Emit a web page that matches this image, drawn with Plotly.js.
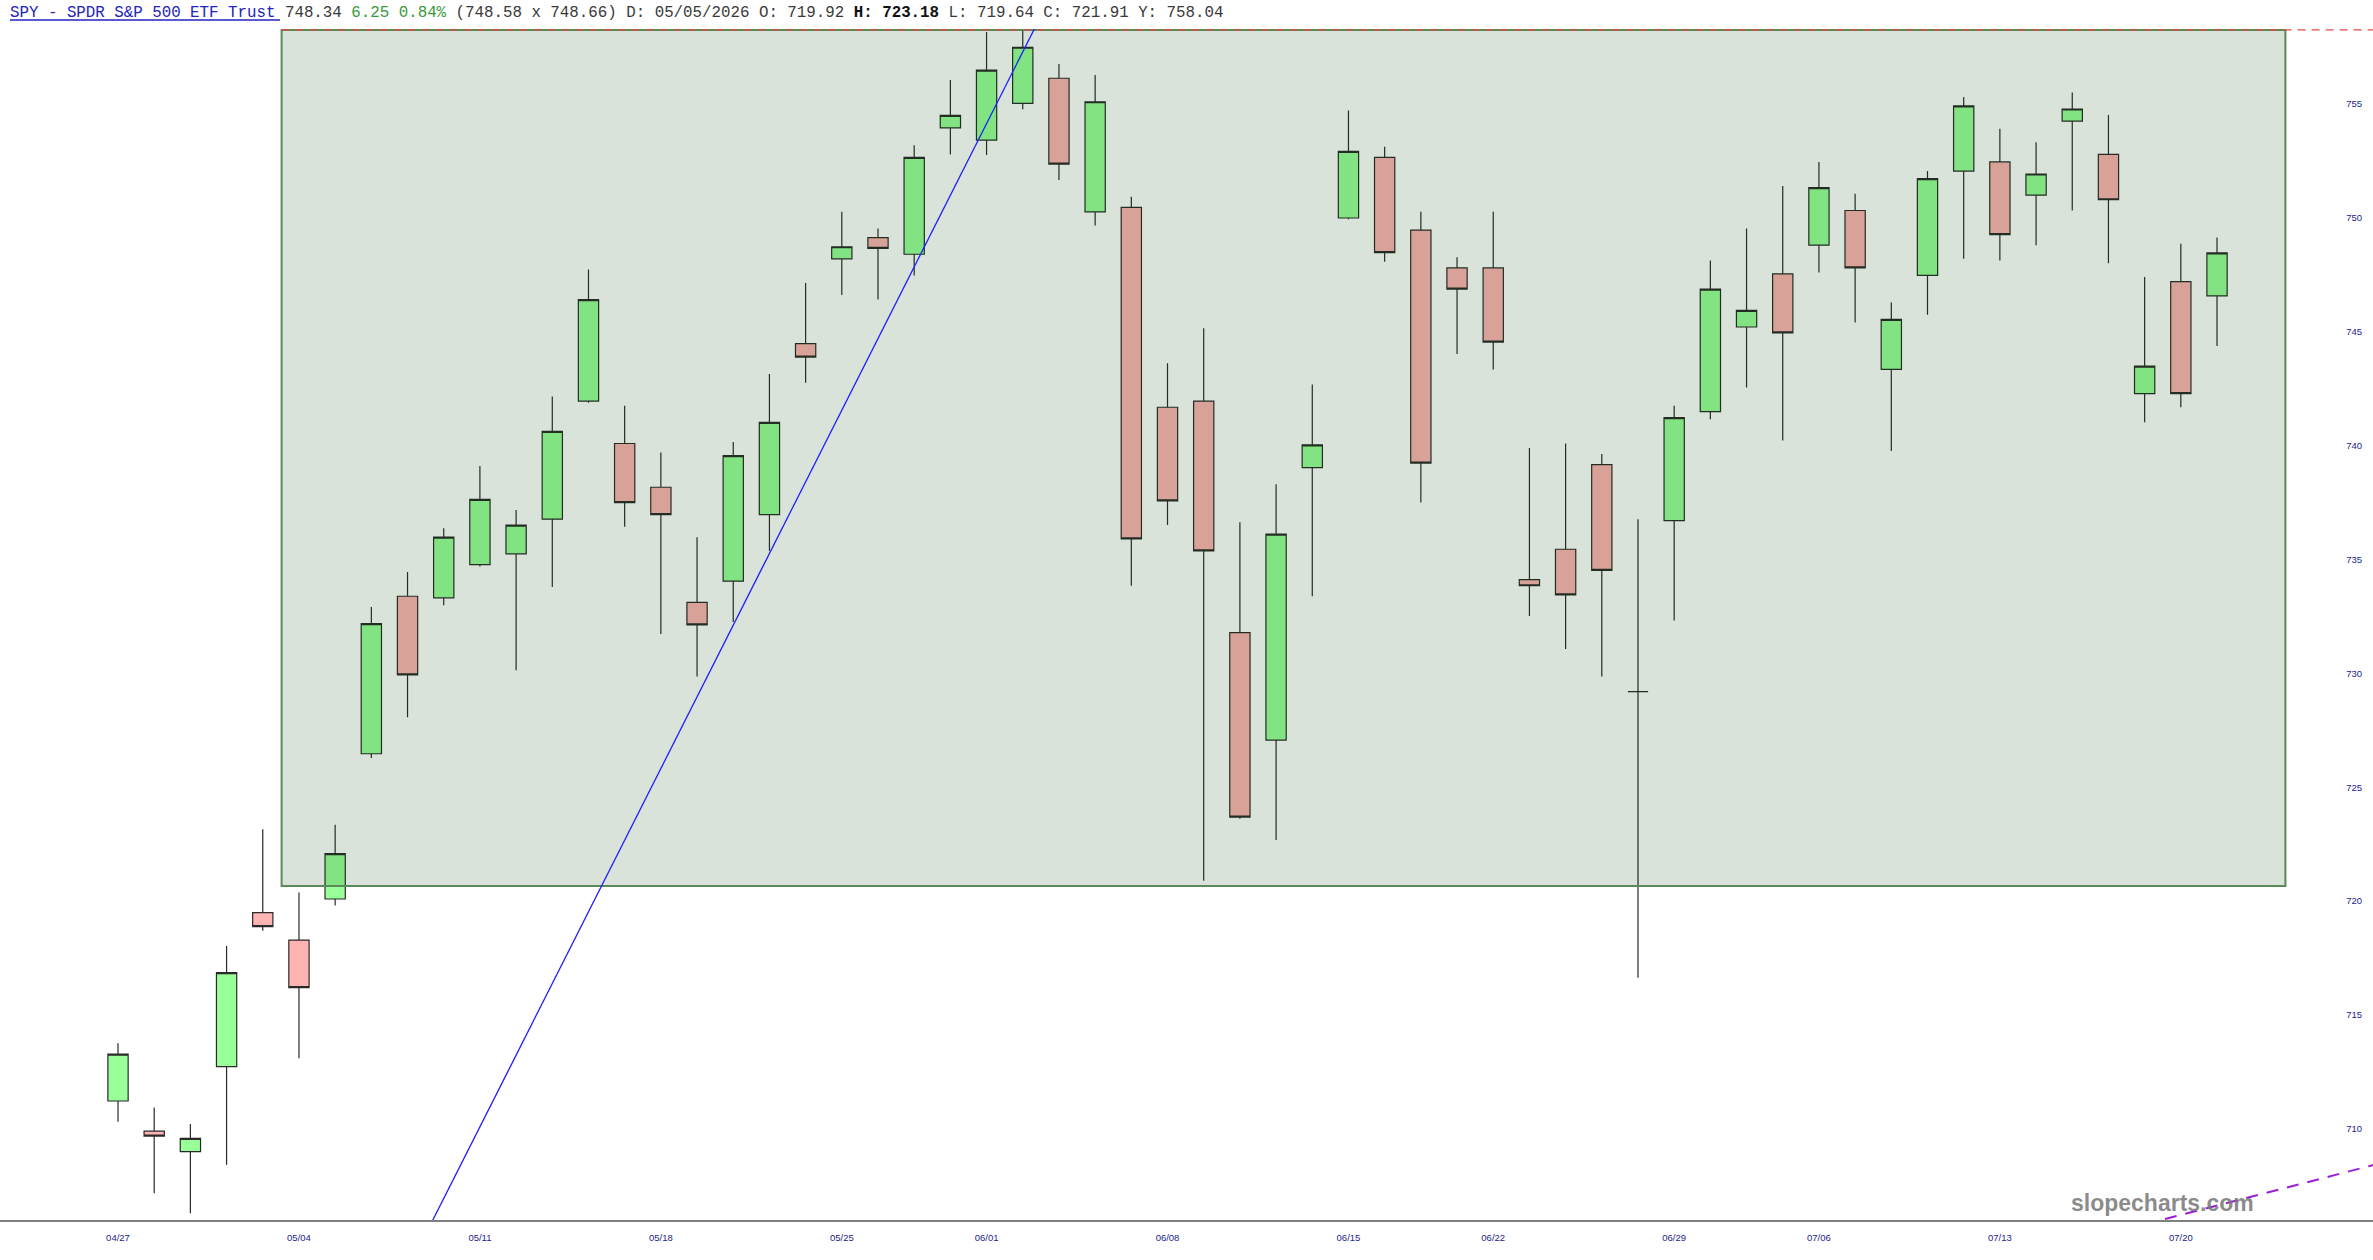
<!DOCTYPE html>
<html><head><meta charset="utf-8">
<script src="https://cdn.plot.ly/plotly-3.0.1.min.js"></script>
<style>html,body{margin:0;padding:0;background:#fff}#chart{width:2373px;height:1260px}</style>
</head><body><div id="chart"></div>
<script>
// ---- data ----
const dates = [
 '2026-04-27','2026-04-28','2026-04-29','2026-04-30','2026-05-01',
 '2026-05-04','2026-05-05','2026-05-06','2026-05-07','2026-05-08',
 '2026-05-11','2026-05-12','2026-05-13','2026-05-14','2026-05-15',
 '2026-05-18','2026-05-19','2026-05-20','2026-05-21','2026-05-22',
 '2026-05-26','2026-05-27','2026-05-28','2026-05-29',
 '2026-06-01','2026-06-02','2026-06-03','2026-06-04','2026-06-05',
 '2026-06-08','2026-06-09','2026-06-10','2026-06-11','2026-06-12',
 '2026-06-15','2026-06-16','2026-06-17','2026-06-18',
 '2026-06-22','2026-06-23','2026-06-24','2026-06-25','2026-06-26',
 '2026-06-29','2026-06-30','2026-07-01','2026-07-02',
 '2026-07-06','2026-07-07','2026-07-08','2026-07-09','2026-07-10',
 '2026-07-13','2026-07-14','2026-07-15','2026-07-16','2026-07-17',
 '2026-07-20','2026-07-21'
];
const opens = [
 711.06,709.74,708.84,712.57,719.32,
 718.12,719.92,726.29,733.20,733.13,
 734.59,735.06,736.58,741.76,739.90,
 737.98,732.93,733.86,736.78,744.28,
 748.00,748.93,748.20,753.74,
 753.21,754.82,755.92,750.06,750.26,
 741.49,741.76,731.60,726.89,738.84,
 749.79,752.45,749.26,747.60,
 747.60,733.93,735.26,738.97,729.02,
 736.52,741.30,745.01,747.34,
 748.60,750.12,743.15,747.27,751.85,
 752.25,750.79,754.04,752.58,742.09,
 747.00,746.37
];
const highs = [
 713.59,710.77,710.05,717.86,722.98,
 720.20,723.18,732.73,734.26,736.18,
 738.91,736.98,741.96,747.53,741.56,
 739.50,735.79,739.97,742.95,746.94,
 750.06,749.33,752.98,755.84,
 757.95,758.50,756.54,756.06,750.72,
 743.42,744.95,736.45,738.11,742.49,
 754.50,752.91,750.06,748.07,
 750.06,739.70,739.90,739.44,736.58,
 741.56,747.93,749.33,751.19,
 752.25,750.85,746.08,751.85,755.10,
 753.71,753.11,755.30,754.31,747.20,
 748.66,748.93
];
const lows = [
 710.15,707.01,706.14,708.26,718.53,
 712.93,719.64,726.10,727.89,732.80,
 734.50,729.95,733.60,741.69,736.25,
 731.54,729.68,732.07,735.19,742.56,
 746.41,746.21,747.27,752.58,
 752.55,754.56,751.46,749.46,733.66,
 736.32,720.72,723.44,722.51,733.20,
 749.73,747.87,737.31,743.82,
 743.15,732.33,730.88,729.68,716.47,
 732.14,740.96,742.36,740.03,
 747.40,745.21,739.57,745.55,748.00,
 747.93,748.60,750.12,747.80,740.83,
 741.49,744.18
];
const closes = [
 713.12,709.52,709.42,716.69,718.71,
 716.03,721.91,732.00,729.75,735.79,
 737.45,736.32,740.43,746.21,737.31,
 736.78,731.94,739.37,740.83,743.69,
 748.53,748.46,752.45,754.29,
 756.28,757.28,752.15,754.89,735.72,
 737.38,735.19,723.51,735.92,739.84,
 752.71,748.27,739.04,746.67,
 744.35,733.66,733.26,734.33,729.02,
 741.03,746.67,745.74,744.75,
 751.12,747.60,745.34,751.52,754.71,
 749.06,751.72,754.57,750.59,743.29,
 742.09,748.26
];
const tickDates  = ['2026-04-27','2026-05-04','2026-05-11','2026-05-18','2026-05-26','2026-06-01','2026-06-08','2026-06-15','2026-06-22','2026-06-29','2026-07-06','2026-07-13','2026-07-20'];
const tickLabels = ['04/27','05/04','05/11','05/18','05/25','06/01','06/08','06/15','06/22','06/29','07/06','07/13','07/20'];
const priceTicks = [710,715,720,725,730,735,740,745,750,755];

// drawn studies (price levels / anchor points, in bar index & price)
const zoneLow = 720.49, zoneHigh = 758.04, zoneStart = 4.52, zoneEnd = 59.89;
const levelY = 758.04;
const trendA = [8.2, 704.27], trendB = [25.6, 758.96];
const trend2A = [56.0, 705.65], trend2B = [63.0, 708.53];

// header
const hi = 6; // bar shown in header
const header =
 '<span style="color:#2323c0">SPY - SPDR S&amp;P 500 ETF Trust</span> ' +
 '<span style="color:#3a3a3a">748.34</span> ' +
 '<span style="color:#3a9a3a">6.25 0.84%</span> ' +
 '<span style="color:#3a3a3a">(748.58 x 748.66) D: 05/05/2026 O: ' + opens[hi].toFixed(2) + '</span> ' +
 '<b>H: ' + highs[hi].toFixed(2) + '</b>' +
 '<span style="color:#3a3a3a"> L: ' + lows[hi].toFixed(2) + ' C: ' + closes[hi].toFixed(2) + ' Y: ' + levelY.toFixed(2) + '</span>';

const W = 2373, H = 1260, T = 29, B = 40;
const plotH = H - T - B;

const trace = {
  type: 'candlestick',
  x: dates, open: opens, high: highs, low: lows, close: closes,
  increasing: {fillcolor: '#99ff99', line: {color: '#2a2a2a', width: 1.2}},
  decreasing: {fillcolor: '#ffb3b3', line: {color: '#2a2a2a', width: 1.2}},
  whiskerwidth: 0,
  hoverinfo: 'x+y'
};

const layout = {
  width: W, height: H,
  margin: {l: 0, r: 0, t: T, b: B, pad: 0},
  paper_bgcolor: '#ffffff', plot_bgcolor: '#ffffff',
  showlegend: false,
  boxgap: 0.2, boxgroupgap: 0.3,
  xaxis: {
    type: 'category',
    range: [-3.261, 62.31],
    rangeslider: {visible: false},
    showgrid: false, zeroline: false,
    showline: true, linecolor: '#808080', linewidth: 2,
    ticks: '', tickmode: 'array', tickvals: tickDates, ticktext: tickLabels,
    tickfont: {family: 'Liberation Sans, Arial, sans-serif', size: 9.5, color: '#1c1c8c'},
    ticklabelstandoff: 8,
    fixedrange: true
  },
  yaxis: {
    side: 'right',
    range: [705.84, 758.08],
    showgrid: false, zeroline: false, showline: false,
    ticks: '', tickmode: 'array', tickvals: priceTicks, ticktext: priceTicks.map(String),
    ticklabelposition: 'inside',
    ticklabelstandoff: 8,
    ticklabelshift: 4,
    tickfont: {family: 'Liberation Sans, Arial, sans-serif', size: 9.5, color: '#1c1c8c'},
    fixedrange: true
  },
  shapes: [
    {type: 'rect', xref: 'x', yref: 'y', x0: zoneStart, x1: zoneEnd, y0: zoneLow, y1: zoneHigh,
     fillcolor: 'rgba(0,68,0,0.15)', line: {color: '#5a8a5a', width: 2}, layer: 'above'},
    {type: 'line', xref: 'x', yref: 'y', x0: zoneStart, x1: 70, y0: levelY, y1: levelY,
     line: {color: '#e04848', width: 1.2, dash: '8px,6px'}, layer: 'above'},
    {type: 'line', xref: 'x', yref: 'y', x0: trendA[0], y0: trendA[1], x1: trendB[0], y1: trendB[1],
     line: {color: '#1f1fff', width: 1.3}, layer: 'above'},
    {type: 'line', xref: 'x', yref: 'y', x0: trend2A[0], y0: trend2A[1], x1: trend2B[0], y1: trend2B[1],
     line: {color: '#9b1fd6', width: 2, dash: '12px,9px'}, layer: 'above'},
    {type: 'line', xref: 'paper', yref: 'paper', x0: 10 / W, x1: 280 / W, y0: 1 + 9 / plotH, y1: 1 + 9 / plotH,
     line: {color: '#2323c0', width: 1.5}}
  ],
  annotations: [
    {xref: 'paper', yref: 'paper', x: 0, y: 1, xanchor: 'left', yanchor: 'middle',
     xshift: 8, yshift: 16, showarrow: false, text: header,
     font: {family: 'Liberation Mono, DejaVu Sans Mono, monospace', size: 15.8, color: '#111'}},
    {xref: 'paper', yref: 'paper', x: 2162 / W, y: (17) / plotH, xanchor: 'center', yanchor: 'middle',
     showarrow: false, text: '<b>slopecharts.com</b>',
     font: {family: 'Liberation Sans, Arial, sans-serif', size: 23, color: 'rgba(118,118,118,0.85)'}}
  ]
};

Plotly.newPlot('chart', [trace], layout, {displayModeBar: false, staticPlot: true});
</script>
</body></html>
